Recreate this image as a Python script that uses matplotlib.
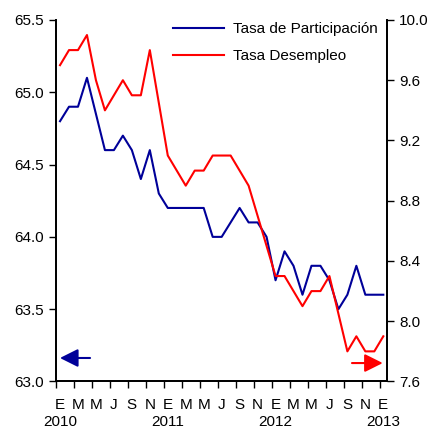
import numpy as np
import matplotlib
matplotlib.use('Agg')
import matplotlib.pyplot as plt
import matplotlib.transforms as mtransforms

plt.rcParams['font.family'] = ['Liberation Sans', 'DejaVu Sans']
plt.rcParams['font.size'] = 11

# datos mensuales, enero 2010 - enero 2013
participacion = [64.8, 64.9, 64.9, 65.1, 64.85, 64.6, 64.6, 64.7, 64.6, 64.4,
                 64.6, 64.3, 64.2, 64.2, 64.2, 64.2, 64.2, 64.0, 64.0, 64.1,
                 64.2, 64.1, 64.1, 64.0, 63.7, 63.9, 63.8, 63.6, 63.8, 63.8,
                 63.7, 63.5, 63.6, 63.8, 63.6, 63.6, 63.6]
desempleo = [9.7, 9.8, 9.8, 9.9, 9.6, 9.4, 9.5, 9.6, 9.5, 9.5,
             9.8, 9.45, 9.1, 9.0, 8.9, 9.0, 9.0, 9.1, 9.1, 9.1,
             9.0, 8.9, 8.7, 8.5, 8.3, 8.3, 8.2, 8.1, 8.2, 8.2,
             8.3, 8.05, 7.8, 7.9, 7.8, 7.8, 7.9]
meses = ['E', 'M', 'M', 'J', 'S', 'N'] * 3 + ['E']
anios = {0: '2010', 12: '2011', 24: '2012', 36: '2013'}

x = np.arange(len(participacion))

fig = plt.figure(figsize=(4.35, 4.34), dpi=100)
ax = fig.add_axes([0.1287, 0.121, 0.7603, 0.833])
ax2 = ax.twinx()

l1, = ax.plot(x, participacion, color='#000099', lw=1.5, label='Tasa de Participación')
l2, = ax2.plot(x, desempleo, color='#ff0000', lw=1.5, label='Tasa Desempleo')

ax.set_xlim(-0.45, 36.38)
ax.set_ylim(63.0, 65.5)
ax.set_yticks(np.arange(63.0, 65.51, 0.5))
ax.set_yticklabels(['%.1f' % v for v in np.arange(63.0, 65.51, 0.5)])
ax2.set_ylim(7.6, 10.0)
ax2.set_yticks(np.arange(7.6, 10.01, 0.4))
ax2.set_yticklabels(['%.1f' % v for v in np.arange(7.6, 10.01, 0.4)])

# etiquetas del eje x: meses y, debajo, los años
pos = np.arange(0, 37, 2)
ax.set_xticks(pos)
ax.set_xticklabels(meses)
ax.set_xticks(pos - 0.4, minor=True)
ax.tick_params(axis='x', which='major', length=0, pad=12)
ax.tick_params(axis='x', which='minor', length=5, width=1, direction='out')
ax.tick_params(axis='y', length=5, width=1, direction='out', pad=4)
ax2.tick_params(axis='y', length=5, width=1, direction='out', pad=4)

trans = mtransforms.blended_transform_factory(ax.transData, ax.transAxes)
for i, a in anios.items():
    ax.text(i, -0.111, a, transform=trans, ha='center', va='center')

for a in (ax, ax2):
    a.spines['top'].set_visible(False)
    for s in ('left', 'right', 'bottom'):
        a.spines[s].set_linewidth(1.3)

# flechas indicando el eje
ax.annotate('', xy=(0.012, 0.065), xytext=(0.103, 0.065), xycoords='axes fraction',
            arrowprops=dict(arrowstyle='-|>,head_length=1.0,head_width=0.5',
                            color='#000099', lw=1.5, shrinkA=0, shrinkB=0))
ax.annotate('', xy=(0.988, 0.051), xytext=(0.895, 0.051), xycoords='axes fraction',
            arrowprops=dict(arrowstyle='-|>,head_length=1.0,head_width=0.5',
                            color='#ff0000', lw=1.5, shrinkA=0, shrinkB=0))

ax2.legend(handles=[l1, l2], loc='upper right', frameon=False,
           bbox_to_anchor=(1.0, 1.02), handlelength=3.3, handletextpad=0.6,
           labelspacing=0.85, borderaxespad=0.2)

plt.savefig('out.png', dpi=100)
